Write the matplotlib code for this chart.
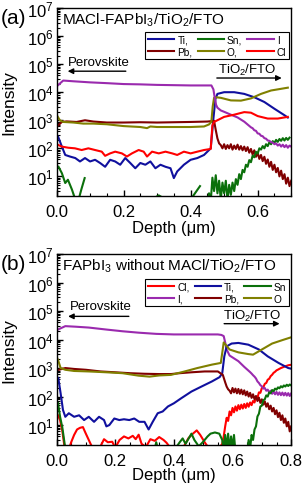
import numpy as np
import matplotlib
matplotlib.use("Agg")
import matplotlib.pyplot as plt
from matplotlib.ticker import MultipleLocator, FixedLocator, LogFormatterSciNotation, NullFormatter

plt.rcParams['font.family'] = ['Liberation Sans', 'DejaVu Sans']
plt.rcParams['mathtext.fontset'] = 'custom'
plt.rcParams['mathtext.rm'] = 'Liberation Sans'
plt.rcParams['mathtext.it'] = 'Liberation Sans'
plt.rcParams['mathtext.default'] = 'regular'

nan = np.nan

# ---------- panel (a): MACl-FAPbI3/TiO2/FTO ----------
a_ti_x = [0.005, 0.016, 0.026, 0.04, 0.056, 0.07, 0.085, 0.10, 0.115, 0.13, 0.145, 0.16, 0.175,
          0.19, 0.205, 0.22, 0.235, 0.25, 0.265, 0.28, 0.295, 0.31, 0.325, 0.34, 0.35, 0.36, 0.38,
          0.40, 0.42, 0.44, 0.455, 0.46, 0.468, 0.474, 0.48, 0.50, 0.53, 0.56, 0.59, 0.62, 0.65,
          0.68, 0.69]
a_ti_y = [257, 115, 58, 51, 45, 34, 45, 34, 39, 30, 22, 39, 34, 26, 45, 30, 19.5, 30, 26, 34, 19.5,
          26, 22, 19.5, 8.7, 15, 26, 39, 45, 58, 87, 100, 1150, 5750, 8700, 10000, 10000, 8700,
          6600, 4470, 2570, 1510, 1250]

a_sn_x = [0.006, 0.016, 0.026, 0.034, 0.046, 0.056, 0.066, 0.074, 0.084, 0.09,
          0.295, 0.305, 0.315, 0.32,
          0.40, 0.428, 0.435,
          0.450, 0.455, 0.460, 0.465, 0.470, 0.475, 0.480, 0.485, 0.490, 0.495, 0.500, 0.505,
          0.510, 0.515, 0.520, 0.525, 0.530, 0.535, 0.540, 0.545, 0.550, 0.555, 0.560, 0.565,
          0.570, 0.575, 0.580, 0.585, 0.590, 0.595, 0.600, 0.605, 0.610, 0.615, 0.620, 0.625,
          0.630, 0.635, 0.640, 0.645, 0.650, 0.655, 0.660, 0.665, 0.670, 0.675, 0.680, 0.685,
          0.690, 0.695]
a_sn_y = [22, 13, 5.8, 7.6, 3.4, 1.5, 1.5, 3.4, 8.7, nan,
          1.8, 2.1, 1.8, nan,
          1.5, 4.5, nan,
          1.0, 2.5, 1.2, 9, 3, 11, 2.5, 7, 1.5, 6, 2.5, 7,
          1.5, 5, 2.2, 6, 3, 8, 5, 12, 8, 17, 14, 26,
          22, 38, 32, 55, 48, 75, 65, 100, 90, 120, 100, 140,
          120, 165, 140, 180, 155, 200, 170, 215, 185, 230, 190, 235,
          200, 240]

a_i_x = [0.005, 0.02, 0.05, 0.1, 0.15, 0.2, 0.25, 0.3, 0.35, 0.4, 0.45, 0.462, 0.468, 0.472,
         0.476, 0.48, 0.49, 0.50, 0.52, 0.54, 0.56, 0.58, 0.585, 0.59, 0.595, 0.60, 0.605, 0.61,
         0.615, 0.62, 0.625, 0.63, 0.635, 0.64, 0.645, 0.65, 0.655, 0.66, 0.665, 0.67, 0.675,
         0.68, 0.685, 0.69, 0.695, 0.70]
a_i_y = [18000, 26000, 24500, 22400, 21000, 19500, 19000, 18200, 17800, 17400, 17400, 17400,
         12600, 6300, 3550, 2800, 2240, 2000, 1580, 1260, 890, 560, 520, 440, 420, 340, 330, 280,
         270, 230, 220, 190, 185, 165, 160, 140, 150, 125, 140, 115, 135, 110, 130, 105, 125, 115]

a_pb_x = [0.005, 0.016, 0.03, 0.06, 0.085, 0.11, 0.15, 0.2, 0.25, 0.3, 0.35, 0.4, 0.45, 0.47,
          0.475, 0.480, 0.485, 0.490, 0.495, 0.500, 0.505, 0.510, 0.515, 0.520, 0.525, 0.530,
          0.535, 0.540, 0.545, 0.550, 0.555, 0.560, 0.565, 0.570, 0.575, 0.580, 0.585, 0.590,
          0.595, 0.600, 0.605, 0.610, 0.615, 0.620, 0.625, 0.630, 0.635, 0.640, 0.645, 0.650,
          0.655, 0.660, 0.665, 0.670, 0.675, 0.680, 0.685, 0.690, 0.695, 0.700]
a_pb_y = [660, 870, 910, 870, 1000, 900, 830, 830, 850, 830, 850, 870, 900, 950,
          450, 225, 150, 130, 100, 140, 95, 130, 100, 140, 90, 125,
          95, 135, 90, 120, 85, 115, 80, 110, 70, 95, 60, 85,
          50, 70, 42, 58, 35, 50, 28, 40, 22, 33, 17, 26,
          14, 20, 10, 16, 8, 12, 5.5, 9, 4.5, 7]

a_o_x = [0.0, 0.005, 0.01, 0.02, 0.05, 0.08, 0.11, 0.15, 0.2, 0.25, 0.27, 0.28, 0.3, 0.35, 0.4,
         0.44, 0.455, 0.462, 0.466, 0.47, 0.475, 0.49, 0.52, 0.55, 0.58, 0.61, 0.64, 0.67, 0.69]
a_o_y = [1580, 1260, 1000, 870, 830, 760, 760, 720, 620, 575, 525, 600, 575, 575, 575, 600, 710,
         890, 3160, 6300, 6600, 6300, 5100, 5000, 6000, 8700, 11500, 13200, 14500]

a_cl_x = [0.005, 0.016, 0.035, 0.055, 0.075, 0.095, 0.115, 0.135, 0.145, 0.16, 0.175, 0.195,
          0.21, 0.225, 0.245, 0.26, 0.27, 0.285, 0.305, 0.325, 0.345, 0.36, 0.38, 0.40, 0.42,
          0.44, 0.46, 0.465, 0.47, 0.48, 0.50, 0.53, 0.56, 0.58, 0.60, 0.63, 0.66, 0.69]
a_cl_y = [132, 115, 105, 100, 87, 100, 87, 76, 54, 66, 76, 66, 51, 66, 87, 76, 51, 76, 66, 76,
          66, 58, 76, 66, 76, 87, 95, 660, 870, 1000, 1320, 1580, 1950, 1860, 1410, 1150, 1150,
          1320]

# ---------- panel (b): FAPbI3 without MACl/TiO2/FTO ----------
b_cl_x = [0.005, 0.012, 0.02, 0.028, 0.04, 0.05, 0.06, 0.07, 0.08, 0.09, 0.1, 0.11, 0.12, 0.135,
          0.15, 0.162, 0.175, 0.19, 0.2, 0.215, 0.23, 0.245, 0.26, 0.27, 0.28, 0.29, 0.305, 0.32,
          0.335, 0.35, 0.365, 0.375, 0.39, 0.41, 0.43, 0.45, 0.465, 0.478, 0.49, 0.505, 0.52,
          0.54, 0.555, 0.565,
          0.570, 0.575, 0.580, 0.585, 0.590, 0.595, 0.600, 0.605, 0.610, 0.615, 0.620, 0.625,
          0.630, 0.635, 0.640, 0.645, 0.650, 0.655, 0.660, 0.665, 0.670, 0.675, 0.680, 0.685,
          0.690, 0.695, 0.700, 0.705, 0.710, 0.715, 0.720, 0.725, 0.730, 0.735, 0.740, 0.745,
          0.750, 0.755, 0.760, 0.765, 0.770, 0.775, 0.780, 0.785, 0.790, 0.795, 0.800]
b_cl_y = [22, 15, 6, 1.5, 1.2, 2.5, 4.5, 7, 8, 8.5, 5, 3, 1.8, 1.5,
          1.8, 3.2, 2.5, 2.6, 1.6, 3, 4, 3.4, 4.2, 3.2, 4.6, 2.2, 1.7, 3.2,
          2.8, 3.8, 3, 2.4, 1.5, 1.2, 1.5, 3.5, 5, 6.5, 4.5, 2.5, 1.5,
          1.3, 1.6, 2.2,
          4, 9, 18, 14, 30, 22, 40, 28, 45, 32, 50, 36,
          52, 38, 55, 40, 58, 44, 62, 50, 70, 62, 95, 90,
          140, 135, 200, 210, 280, 300, 390, 420, 520, 580, 680, 740,
          830, 880, 940, 1000, 1050, 1100, 1150, 1200, 1250, 1280, 1300]

b_ti_x = [0.006, 0.014, 0.022, 0.03, 0.042, 0.06, 0.077, 0.094, 0.11, 0.128, 0.145, 0.162, 0.17,
          0.18, 0.197, 0.214, 0.23, 0.248, 0.265, 0.282, 0.30, 0.314, 0.328, 0.345, 0.362, 0.38,
          0.40, 0.425, 0.46, 0.494, 0.53, 0.556, 0.565, 0.572, 0.58, 0.597, 0.62, 0.654, 0.69,
          0.72, 0.757, 0.79, 0.80]
b_ti_y = [450, 130, 34, 19.5, 26, 19.5, 22, 15, 19.5, 13, 19.5, 15, 9, 10, 17, 15, 16, 15, 17,
          13, 13, 7, 13, 26, 30, 45, 58, 87, 150, 224, 340, 480, 660, 2570, 5750, 7240, 7600,
          6600, 4470, 2570, 1510, 1000, 950]

b_sn_x = [0.005, 0.012, 0.02, 0.03, 0.035,
          0.335, 0.34, 0.345, 0.35,
          0.405, 0.42, 0.43, 0.44, 0.46, 0.47, 0.485, 0.5, 0.515, 0.525, 0.54, 0.555, 0.565,
          0.570, 0.575, 0.580, 0.585, 0.590, 0.595, 0.600, 0.605, 0.610, 0.615, 0.620, 0.630,
          0.640, 0.650, 0.655, 0.660, 0.665, 0.670, 0.675, 0.680, 0.685, 0.690, 0.695, 0.700,
          0.705, 0.710, 0.715, 0.720, 0.725, 0.730, 0.735, 0.740, 0.745, 0.750, 0.755, 0.760,
          0.765, 0.770, 0.775, 0.780, 0.785, 0.790, 0.795, 0.800]
b_sn_y = [60, 20, 8, 1.5, nan,
          1.5, 2.5, 1.5, nan,
          1.5, 2.5, 3.4, 2.2, 5, 3, 1.8, 2.6, 4, 5, 5.5, 5, 3,
          1.2, 4.5, 1.5, 5, 1.2, 4, 1.5, 4.5, 1.2, 1.0, 1.0, 1.0,
          1.0, 1.2, 3, 1.5, 4.5, 3, 7, 9, 20, 25, 45, 48,
          75, 80, 110, 100, 140, 130, 170, 155, 190, 175, 210, 195,
          230, 210, 245, 225, 260, 235, 265, 245]

b_i_x = [0.005, 0.03, 0.065, 0.11, 0.17, 0.225, 0.28, 0.34, 0.40, 0.45, 0.50, 0.55, 0.562, 0.57,
         0.575, 0.58, 0.59, 0.62, 0.64, 0.66, 0.665, 0.67, 0.675, 0.68, 0.685, 0.69, 0.695, 0.70,
         0.705, 0.71, 0.715, 0.72, 0.725, 0.73, 0.735, 0.74, 0.745, 0.75, 0.755, 0.76, 0.765,
         0.77, 0.775, 0.78, 0.785, 0.79, 0.795, 0.80]
b_i_y = [22400, 29500, 28200, 26300, 22400, 19500, 17400, 15800, 15100, 15100, 15100, 15100,
         14500, 13200, 7900, 4470, 2750, 1740, 1100, 720, 640, 560, 500, 430, 340, 300, 250, 230,
         190, 200, 160, 175, 140, 160, 125, 150, 120, 145, 115, 140, 112, 138, 110, 135, 108,
         132, 105, 128]

b_pb_x = [0.008, 0.03, 0.06, 0.1, 0.15, 0.2, 0.25, 0.3, 0.35, 0.39, 0.42, 0.46, 0.505, 0.55,
          0.567, 0.575, 0.58, 0.585,
          0.590, 0.595, 0.600, 0.605, 0.610, 0.615, 0.620, 0.625, 0.630, 0.635, 0.640, 0.645,
          0.650, 0.655, 0.660, 0.665, 0.670, 0.675, 0.680, 0.685, 0.690, 0.695, 0.700, 0.705,
          0.710, 0.715, 0.720, 0.725, 0.730, 0.735, 0.740, 0.745, 0.750, 0.755, 0.760, 0.765,
          0.770, 0.775, 0.780, 0.785, 0.790, 0.795, 0.800]
b_pb_y = [870, 1000, 930, 870, 760, 710, 660, 630, 615, 615, 660, 710, 760, 760,
          575, 316, 224, 180,
          160, 130, 200, 140, 190, 130, 185, 125, 175, 120, 165, 110,
          150, 100, 135, 90, 120, 80, 105, 70, 92, 60, 80, 52,
          68, 44, 58, 36, 48, 30, 40, 24, 33, 19, 27, 15,
          22, 12, 17, 9, 13, 6, 9]

b_o_x = [0.0, 0.005, 0.014, 0.03, 0.06, 0.11, 0.17, 0.225, 0.28, 0.317, 0.35, 0.39, 0.437, 0.48,
         0.53, 0.56, 0.565, 0.57, 0.59, 0.62, 0.654, 0.67, 0.70, 0.735, 0.77, 0.80]
b_o_y = [2500, 1950, 1000, 870, 790, 760, 710, 660, 540, 500, 550, 575, 760, 1000, 1320, 1510,
         3400, 7900, 4470, 3550, 3090, 2950, 4470, 7240, 9550, 12000]

y_major = [1e1, 1e2, 1e3, 1e4, 1e5, 1e6, 1e7]
y_minor = [m * 10.0 ** e for e in range(0, 7) for m in range(2, 10)]

C_TI = '#10109e'
C_SN = '#0b700b'
C_I = '#9a2aae'
C_PB = '#800000'
C_O = '#808000'
C_CL = '#ff0000'
LW = 1.5

fig = plt.figure(figsize=(3.03, 4.89), dpi=100)
# pixel layout: a spans y 9..197, b spans y 255..446, x 56.5..291
ax_a = fig.add_axes([0.1865, 1 - 197 / 489, 0.7745, 188 / 489])
ax_b = fig.add_axes([0.1865, 1 - 446 / 489, 0.7745, 191 / 489])

# panel (a) lines, legend order Ti, Pb / Sn, O / I, Cl (column-wise fill)
ax_a.plot(a_ti_x, a_ti_y, color=C_TI, lw=LW, label='Ti,')
ax_a.plot(a_pb_x, a_pb_y, color=C_PB, lw=LW, label='Pb,')
ax_a.plot(a_sn_x, a_sn_y, color=C_SN, lw=LW, label='Sn,')
ax_a.plot(a_o_x, a_o_y, color=C_O, lw=LW, label='O,')
ax_a.plot(a_i_x, a_i_y, color=C_I, lw=LW, label='I')
ax_a.plot(a_cl_x, a_cl_y, color=C_CL, lw=LW, label='Cl')

# panel (b) lines: Cl, I / Ti, Pb / Sn, O
ax_b.plot(b_cl_x, b_cl_y, color=C_CL, lw=LW, label='Cl,')
ax_b.plot(b_i_x, b_i_y, color=C_I, lw=LW, label='I,')
ax_b.plot(b_ti_x, b_ti_y, color=C_TI, lw=LW, label='Ti,')
ax_b.plot(b_pb_x, b_pb_y, color=C_PB, lw=LW, label='Pb,')
ax_b.plot(b_sn_x, b_sn_y, color=C_SN, lw=LW, label='Sn')
ax_b.plot(b_o_x, b_o_y, color=C_O, lw=LW, label='O')

for ax, xmax, leg_top in ((ax_a, 0.70, 0.872), (ax_b, 0.80, 0.869)):
    ax.set_yscale('log')
    ax.set_ylim(2, 1e7)
    ax.set_xlim(0, xmax)
    ax.xaxis.set_major_locator(MultipleLocator(0.2))
    ax.xaxis.set_minor_locator(MultipleLocator(0.05))
    ax.yaxis.set_major_locator(FixedLocator(y_major))
    ax.yaxis.set_major_formatter(LogFormatterSciNotation())
    ax.yaxis.set_minor_locator(FixedLocator([v for v in y_minor if v > 2]))
    ax.yaxis.set_minor_formatter(NullFormatter())
    ax.tick_params(which='both', direction='in', top=False, right=False, labelsize=12)
    ax.tick_params(which='major', length=4, width=1)
    ax.tick_params(which='minor', length=2, width=0.8)
    ax.tick_params(axis='x', pad=6)
    ax.tick_params(axis='y', pad=2)
    ax.xaxis.set_major_formatter(plt.FuncFormatter(lambda v, p: '%.1f' % v))
    for s in ax.spines.values():
        s.set_linewidth(1)
    ax.set_xlabel('Depth (\u03bcm)', fontsize=12)
    ax.set_ylabel('Intensity', fontsize=12.5)
    ax.yaxis.set_label_coords(-0.17, 0.5)
    ax.legend(ncol=3, loc='upper right', bbox_to_anchor=(0.99, leg_top), fontsize=7.3,
              frameon=True, fancybox=False, edgecolor='black', framealpha=1,
              handlelength=2.6, handletextpad=0.3, columnspacing=0.5,
              borderpad=0.25, labelspacing=0.2, borderaxespad=0)
    ax.legend_.get_frame().set_linewidth(0.8)

ax_a.xaxis.set_label_coords(0.5, -0.128)
ax_b.xaxis.set_label_coords(0.5, -0.115)

ax_a.text(0.025, 0.94, 'MACl-FAPbI$_3$/TiO$_2$/FTO', transform=ax_a.transAxes,
          fontsize=11, va='center', ha='left')
ax_b.text(0.025, 0.94, 'FAPbI$_3$ without MACl/TiO$_2$/FTO', transform=ax_b.transAxes,
          fontsize=11, va='center', ha='left')

arrow = dict(arrowstyle='-|>', color='black', lw=1, mutation_scale=8)
ax_a.annotate('', xy=(0.025, 5.6e4), xytext=(0.215, 5.6e4), arrowprops=arrow)
ax_a.text(0.125, 1.2e5, 'Perovskite', fontsize=9.5, ha='center', va='center')
ax_a.annotate('', xy=(0.68, 3.2e4), xytext=(0.47, 3.2e4), arrowprops=arrow)
ax_a.text(0.57, 6.6e4, 'TiO$_2$/FTO', fontsize=9.5, ha='center', va='center')

ax_b.annotate('', xy=(0.03, 6.5e4), xytext=(0.256, 6.5e4), arrowprops=arrow)
ax_b.text(0.15, 1.45e5, 'Perovskite', fontsize=9.5, ha='center', va='center')
ax_b.annotate('', xy=(0.77, 3.6e4), xytext=(0.562, 3.6e4), arrowprops=arrow)
ax_b.text(0.668, 7.2e4, 'TiO$_2$/FTO', fontsize=9.5, ha='center', va='center')

fig.text(0.003, 1 - 19 / 489, '(a)', fontsize=15, va='center', ha='left')
fig.text(0.003, 1 - 264 / 489, '(b)', fontsize=15, va='center', ha='left')

fig.savefig('out.png', dpi=100)
